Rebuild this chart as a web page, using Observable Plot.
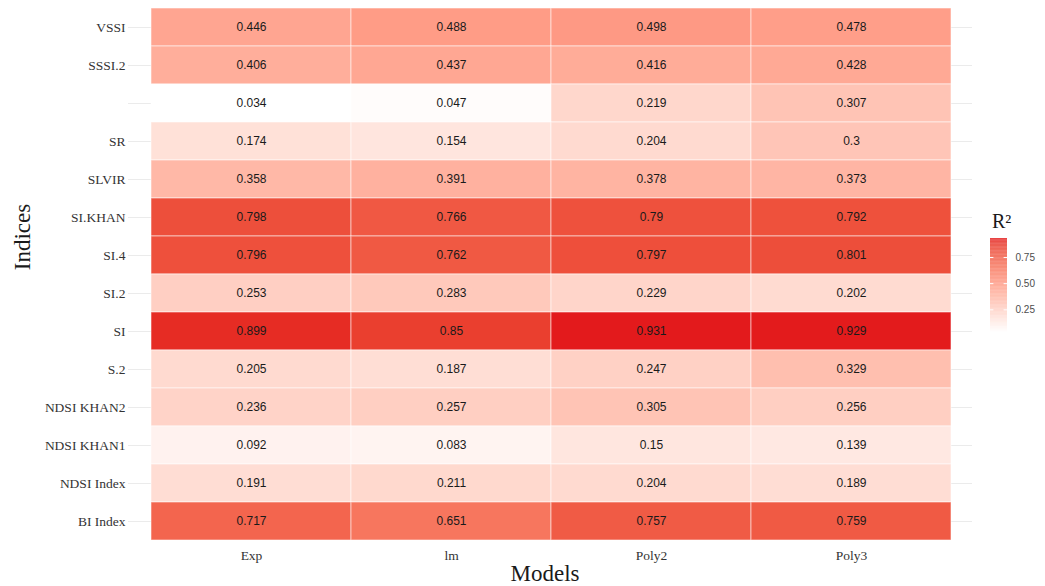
<!DOCTYPE html>
<html>
<head>
<meta charset="utf-8">
<script src="https://cdn.jsdelivr.net/npm/d3@7"></script>
<script src="https://cdn.jsdelivr.net/npm/@observablehq/plot@0.6"></script>
<style>
  html, body { margin: 0; padding: 0; background: #fff; }
  #wrap { position: relative; width: 1045px; height: 586px; overflow: hidden; }
  #legend { position: absolute; left: 985px; top: 230px; }
  #legtitle { position: absolute; left: 992px; top: 211px; font: 20px "Liberation Serif", "Times New Roman", serif; line-height: 20px; color: #1a1a1a; }
</style>
</head>
<body>
<div id="wrap"></div>
<script>
const models = ["Exp", "lm", "Poly2", "Poly3"];
const indices = ["VSSI", "SSSI.2", "", "SR", "SLVIR", "SI.KHAN", "SI.4", "SI.2", "SI", "S.2", "NDSI KHAN2", "NDSI KHAN1", "NDSI Index", "BI Index"];
const expValues   = [0.446, 0.406, 0.034, 0.174, 0.358, 0.798, 0.796, 0.253, 0.899, 0.205, 0.236, 0.092, 0.191, 0.717];
const lmValues    = [0.488, 0.437, 0.047, 0.154, 0.391, 0.766, 0.762, 0.283, 0.85, 0.187, 0.257, 0.083, 0.211, 0.651];
const poly2Values = [0.498, 0.416, 0.219, 0.204, 0.378, 0.79, 0.797, 0.229, 0.931, 0.247, 0.305, 0.15, 0.204, 0.757];
const poly3Values = [0.478, 0.428, 0.307, 0.3, 0.373, 0.792, 0.801, 0.202, 0.929, 0.329, 0.256, 0.139, 0.189, 0.759];
const legendTicks = [0.25, 0.5, 0.75];

const series = [expValues, lmValues, poly2Values, poly3Values];
const rows = indices.flatMap((idx, i) => models.map((m, j) => ({index: idx, model: m, value: series[j][i]})));
const vmin = d3.min(rows, d => d.value), vmax = d3.max(rows, d => d.value);
const colorScale = {type: "linear", domain: [vmin, vmax], range: ["#ffffff", "#e31a1c"], interpolate: "lab"};

const serif = "'Liberation Serif', 'Times New Roman', serif";
const sans = "'Liberation Sans', Arial, sans-serif";

const chart = Plot.plot({
  width: 1045,
  height: 586,
  marginLeft: 128,
  marginRight: 73,
  marginTop: 5,
  marginBottom: 44,
  style: {background: "#fff"},
  x: {type: "band", domain: models, padding: 0, insetLeft: 21, insetRight: 20, label: null},
  y: {type: "band", domain: indices, padding: 0, label: null},
  color: colorScale,
  marks: [
    Plot.gridY({stroke: "#ebebeb", strokeOpacity: 1, strokeWidth: 1}),
    Plot.cell(rows, {x: "model", y: "index", fill: "value", stroke: "white", strokeOpacity: 0.55, strokeWidth: 1}),
    Plot.text(rows, {x: "model", y: "index", text: d => String(d.value), fontFamily: sans, fontSize: 12, fill: "#1a1a1a"}),
    Plot.axisY({tickSize: 0, tickPadding: 3, fontFamily: serif, fontSize: 13.5, fill: "#333", label: null, tickFormat: d => d}),
    Plot.axisX({tickSize: 0, tickPadding: 8, fontFamily: serif, fontSize: 13.5, fill: "#333", label: null})
  ]
});

const svg = d3.select(chart);
svg.append("text")
  .attr("transform", "translate(30,237) rotate(-90)")
  .attr("text-anchor", "middle")
  .attr("font-family", serif)
  .attr("font-size", 23)
  .attr("fill", "#1a1a1a")
  .text("Indices");
svg.append("text")
  .attr("x", 545)
  .attr("y", 581)
  .attr("text-anchor", "middle")
  .attr("font-family", serif)
  .attr("font-size", 23)
  .attr("fill", "#1a1a1a")
  .text("Models");

const n = 120;
const steps = d3.range(n).map(i => ({
  a: vmin + (vmax - vmin) * i / n,
  b: vmin + (vmax - vmin) * (i + 1) / n,
  v: vmin + (vmax - vmin) * (i + 0.5) / n
}));

const legend = Plot.plot({
  width: 60,
  height: 110,
  marginTop: 8,
  marginBottom: 8,
  marginLeft: 5,
  marginRight: 38,
  x: {domain: [0, 1], axis: null},
  y: {domain: [vmin, vmax]},
  color: colorScale,
  marks: [
    Plot.rect(steps, {x1: () => 0, x2: () => 1, y1: "a", y2: "b", fill: "v", inset: 0}),
    Plot.ruleY(legendTicks, {x1: () => 0, x2: () => 0.2, stroke: "white", strokeWidth: 1}),
    Plot.ruleY(legendTicks, {x1: () => 0.8, x2: () => 1, stroke: "white", strokeWidth: 1}),
    Plot.axisY({anchor: "right", ticks: legendTicks, tickFormat: d3.format(".2f"), tickSize: 0, tickPadding: 8, fontFamily: sans, fontSize: 10, fill: "#4d4d4d", label: null})
  ]
});

const wrap = document.getElementById("wrap");
wrap.appendChild(chart);
const lg = document.createElement("div");
lg.id = "legend";
lg.appendChild(legend);
wrap.appendChild(lg);
const lt = document.createElement("div");
lt.id = "legtitle";
lt.textContent = "R²";
wrap.appendChild(lt);
</script>
</body>
</html>
